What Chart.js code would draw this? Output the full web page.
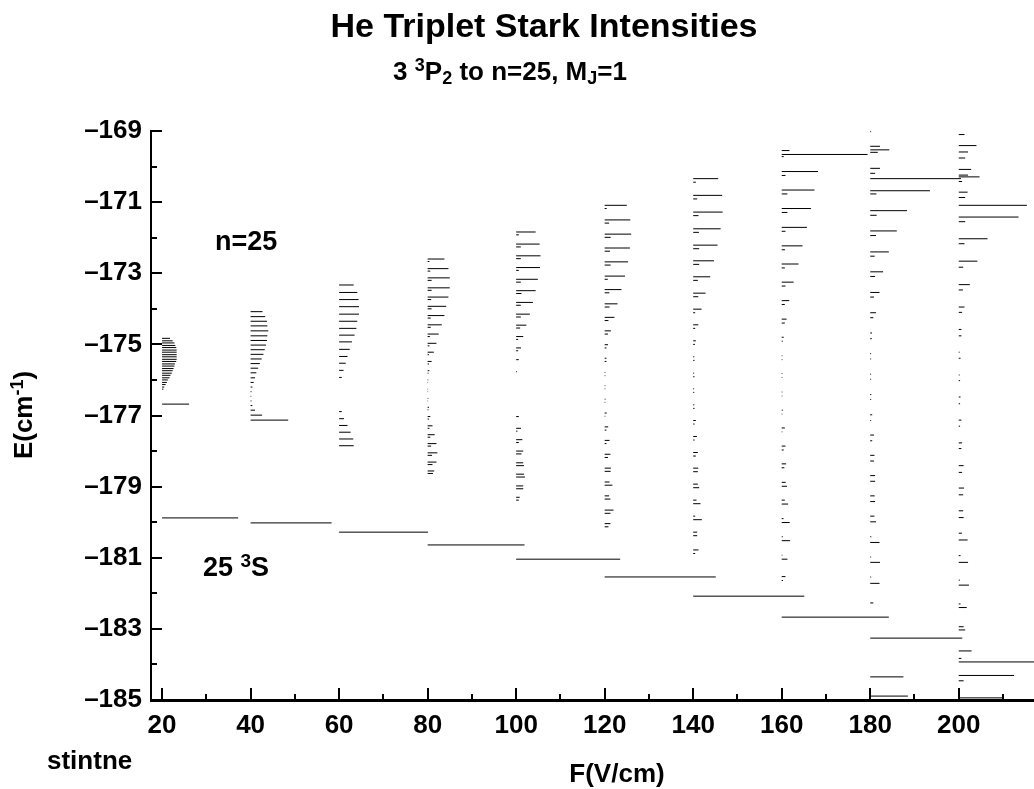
<!DOCTYPE html>
<html><head><meta charset="utf-8">
<script src="https://cdn.jsdelivr.net/npm/chart.js@4/dist/chart.umd.min.js"></script>
<style>html,body{margin:0;padding:0;background:#fff;}#wrap{width:1034px;height:789px;position:relative;}</style>
</head><body><div id="wrap"><canvas id="c" width="1034" height="789"></canvas></div>
<script>
// ---------- data (energies in cm^-1, line lengths = relative intensity in V/cm units) ----------
const fields = [20, 40, 60, 80, 100, 120, 140, 160, 180, 200];

const E20 = [-174.83,-174.90,-174.96,-175.03,-175.09,-175.16,-175.22,-175.29,-175.35,-175.42,-175.48,-175.55,-175.61,-175.68,-175.74,-175.81,-175.87,-175.94,-176.00,-176.07,-176.13,-176.20,-176.26,-176.33,-176.68];
const L20 = [1.8,2.4,2.8,3.0,3.2,3.3,3.3,3.3,3.3,3.3,3.2,2.9,2.8,2.6,2.4,2.2,1.9,1.7,1.3,1.1,0.8,0.5,0.3,0.15,6.1];

const E40 = [-174.08,-174.22,-174.35,-174.48,-174.62,-174.76,-174.89,-175.02,-175.15,-175.28,-175.41,-175.54,-175.67,-175.80,-175.94,-176.07,-176.20,-176.33,-176.46,-176.59,-176.72,-176.85,-176.99,-177.13];
const L40 = [2.7,3.3,3.7,3.8,4.0,3.8,3.7,3.5,3.2,2.9,2.5,2.1,1.7,1.3,1.0,0.7,0.4,0.2,0.15,0.2,0.4,1.0,2.6,8.5];

const E60 = [-173.33,-173.54,-173.74,-173.94,-174.15,-174.35,-174.55,-174.74,-174.93,-175.14,-175.34,-175.53,-175.73,-175.93,-176.12,-176.32,-176.52,-176.70,-176.89,-177.09,-177.28,-177.47,-177.66,-177.85];
const L60 = [3.3,4.1,4.4,4.5,4.5,4.1,3.9,3.5,2.9,2.4,1.9,1.5,1.0,0.6,0.2,0.1,0.1,0.2,0.6,1.1,1.9,2.6,3.2,3.3];

const E80 = [-172.60,-172.87,-173.13,-173.41,-173.67,-173.93,-174.19,-174.45,-174.71,-174.97,-175.22,-175.48,-175.74,-176.00,-176.26,-176.52,-176.77,-177.03,-177.29,-177.54,-177.79,-178.05,-178.31,-178.56];
const L80 = [3.8,4.7,5.0,5.0,4.7,4.2,3.8,3.2,2.5,2.0,1.4,0.9,0.4,0.15,0.1,0.15,0.3,0.6,1.1,1.6,2.0,2.2,2.0,1.5];
const E80b = [-172.67,-172.94,-173.20,-173.48,-173.74,-174.00,-174.26,-174.52,-174.78,-175.04,-175.29,-175.55,-175.81,-176.07,-176.33,-176.59,-176.84,-177.10,-177.36,-177.61,-177.86,-178.12,-178.38,-178.63];
const L80b = [0.4,0.6,0.9,0.9,0.8,0.9,0.7,0.7,0.5,0.4,0.3,0.3,0.2,0.1,0.1,0.1,0.2,0.3,0.4,0.6,0.8,1.0,1.1,1.2];

const E100 = [-171.84,-172.18,-172.51,-172.84,-173.17,-173.49,-173.82,-174.15,-174.46,-174.78,-175.10,-175.43,-175.77,-176.09,-176.42,-176.72,-177.03,-177.36,-177.68,-178.00,-178.33,-178.65,-178.98,-179.30];
const L100 = [4.4,5.3,5.5,5.4,4.9,4.4,3.8,3.1,2.3,1.6,1.1,0.6,0.2,0.1,0.1,0.15,0.6,1.1,1.4,1.6,1.6,1.8,1.6,0.8];
const E100b = [-171.92,-172.26,-172.59,-172.92,-173.25,-173.57,-173.90,-174.23,-174.54,-174.86,-175.18,-175.51,-175.85,-176.17,-176.50,-176.80,-177.11,-177.44,-177.76,-178.08,-178.41,-178.73,-179.06,-179.38];
const L100b = [0.6,1.05,1.05,0.6,1.05,1.2,1.05,1.05,0.9,0.45,0.45,0.15,0.15,0.1,0.1,0.1,0.15,0.3,0.6,1.2,1.75,2.0,1.6,0.6];

const E120 = [-171.09,-171.50,-171.90,-172.29,-172.68,-173.08,-173.46,-173.86,-174.24,-174.62,-175.01,-175.39,-175.79,-176.16,-176.54,-176.93,-177.32,-177.70,-178.09,-178.48,-178.87,-179.26,-179.66,-180.04];
const L120 = [5.0,5.8,6.0,5.7,5.3,4.6,3.8,2.9,2.2,1.4,0.75,0.4,0.15,0.15,0.2,0.45,0.8,1.1,1.3,1.4,1.1,1.0,2.0,1.3];
const E120b = [-171.18,-171.59,-171.99,-172.38,-172.77,-173.17,-173.55,-173.95,-174.33,-174.71,-175.10,-175.48,-175.88,-176.25,-176.63,-177.02,-177.41,-177.79,-178.18,-178.57,-178.96,-179.35,-179.75,-180.13];
const L120b = [0.45,1.0,1.35,1.2,1.35,0.7,1.05,1.1,0.85,0.75,0.4,0.4,0.15,0.15,0.15,0.15,0.4,0.4,0.75,1.35,1.75,1.3,1.3,0.85];

const E140 = [-170.34,-170.81,-171.28,-171.75,-172.21,-172.65,-173.10,-173.56,-174.01,-174.45,-174.90,-175.35,-175.81,-176.25,-176.70,-177.14,-177.59,-178.04,-178.48,-178.93,-179.38,-179.83,-180.28,-180.78];
const L140 = [5.65,6.55,6.65,6.2,5.5,4.7,3.85,2.8,1.9,1.15,0.6,0.25,0.2,0.2,0.25,0.6,0.85,1.05,1.15,1.05,0.75,0.45,0.9,1.2];
const E140b = [-170.44,-170.91,-171.38,-171.85,-172.31,-172.75,-173.20,-173.66,-174.11,-174.55,-175.00,-175.45,-175.91,-176.35,-176.80,-177.24,-177.69,-178.14,-178.58,-179.03,-179.48,-179.93,-180.38,-180.88];
const L140b = [0.6,0.9,1.2,1.3,1.35,1.35,1.05,1.15,0.45,0.45,0.4,0.3,0.3,0.25,0.3,0.3,0.3,0.6,1.05,1.35,1.65,1.95,0.9,0.45];

const E160 = [-169.55,-169.66,-170.14,-170.66,-171.18,-171.71,-172.23,-172.74,-173.25,-173.77,-174.29,-174.80,-175.32,-175.82,-176.34,-176.85,-177.35,-177.86,-178.36,-178.88,-179.38,-179.90,-180.41,-180.93,-181.53];
const L160 = [1.75,19.4,8.2,7.4,6.6,5.7,4.7,3.8,2.7,1.7,1.1,0.45,0.15,0.15,0.15,0.25,0.7,0.85,1.0,0.9,0.7,0.4,0.25,0.15,0.85];
const E160b = [-169.72,-170.25,-170.77,-171.29,-171.82,-172.34,-172.85,-173.36,-173.88,-174.40,-174.91,-175.43,-175.93,-176.45,-176.96,-177.46,-177.97,-178.47,-178.99,-179.49,-180.01,-180.52,-181.04,-181.64];
const L160b = [0.45,0.85,1.3,1.3,0.85,0.75,0.7,0.85,0.7,0.7,0.25,0.15,0.15,0.15,0.15,0.15,0.45,0.6,1.2,1.45,1.8,1.9,1.3,0.3];

const E180 = [-169.02,-169.43,-169.53,-169.60,-170.05,-170.19,-170.34,-170.68,-170.77,-171.24,-171.37,-171.81,-171.94,-172.40,-172.52,-172.96,-173.09,-173.54,-173.67,-174.11,-174.25,-174.68,-174.84,-175.26,-175.41,-175.84,-175.98,-176.41,-176.55,-176.98,-177.14,-177.55,-177.71,-178.12,-178.28,-178.69,-178.85,-179.26,-179.42,-179.83,-179.99,-180.41,-180.57,-180.98,-181.13,-181.54,-181.72,-182.27,-184.35,-184.89];
const L180 = [0.2,2.2,4.3,1.7,2.2,1.1,20.5,13.5,1.4,8.3,1.45,6.0,1.3,4.2,1.0,2.9,1.1,2.1,0.85,1.3,0.7,0.4,0.35,0.2,0.2,0.2,0.2,0.25,0.2,0.45,0.2,0.85,0.45,0.95,0.85,1.1,1.1,1.0,1.1,0.95,1.3,0.25,2.1,0.2,2.2,0.2,2.1,0.7,7.5,8.5];

const E200 = [-169.10,-169.41,-169.59,-169.76,-170.08,-170.24,-170.29,-170.42,-170.72,-170.87,-171.09,-171.42,-171.55,-172.03,-172.17,-172.66,-172.83,-173.32,-173.47,-173.95,-174.10,-174.58,-174.76,-175.22,-175.39,-175.86,-176.02,-176.48,-176.67,-177.13,-177.30,-177.77,-177.93,-178.41,-178.60,-179.04,-179.23,-179.68,-179.87,-180.31,-180.50,-180.94,-181.13,-181.63,-181.77,-182.30,-182.40,-182.94,-183.03,-183.62,-183.83,-184.31,-184.46,-184.94];
const L200 = [1.3,4.0,2.1,1.45,2.8,2.1,4.7,0.75,2.0,1.45,15.4,13.5,1.45,6.5,1.3,4.2,1.0,2.5,0.95,1.3,0.75,0.6,0.6,0.2,0.4,0.2,0.3,0.4,0.3,0.6,0.3,0.75,0.6,1.1,0.75,1.2,1.0,1.0,1.1,0.7,2.0,0.4,2.1,0.25,2.3,0.4,1.8,1.1,1.45,2.9,0.6,12.5,1.1,10.0];

// 25 3S state at each field
const S_E = [-179.88,-180.02,-180.28,-180.64,-181.04,-181.54,-182.08,-182.67,-183.26,-183.93];
const S_L = [17.2,18.3,20.1,21.9,23.5,25.1,25.1,24.2,20.8,20.0];

// axis tick values
const xMajor = [20,40,60,80,100,120,140,160,180,200];
const xMinor = [30,50,70,90,110,130,150,170,190,210];
const yMinor = [-184,-182,-180,-178,-176,-174,-172,-170];

// ---------- build segments ----------
function segs(F, E, L) {
  const d = [];
  for (let i = 0; i < E.length; i++) {
    d.push({x: F, y: E[i]}, {x: F + L[i], y: E[i]}, {x: NaN, y: NaN});
  }
  return d;
}
const groups = [
  [20, E20, L20], [40, E40, L40], [60, E60, L60],
  [80, E80, L80], [80, E80b, L80b],
  [100, E100, L100], [100, E100b, L100b],
  [120, E120, L120], [120, E120b, L120b],
  [140, E140, L140], [140, E140b, L140b],
  [160, E160, L160], [160, E160b, L160b],
  [180, E180, L180], [200, E200, L200]
];
const datasets = groups.map(g => ({data: segs(g[0], g[1], g[2])}));
const sData = [];
fields.forEach((F, i) => { sData.push({x: F, y: S_E[i]}, {x: F + S_L[i], y: S_E[i]}, {x: NaN, y: NaN}); });
datasets.push({data: sData});
datasets.forEach(d => Object.assign(d, {showLine: true, borderColor: '#000', borderWidth: 1, pointRadius: 0, spanGaps: false, tension: 0}));

const FONT = '"Liberation Sans", Arial, Helvetica, sans-serif';

function drawRich(ctx, parts, x, y, size, align) {
  const small = Math.round(size * 0.7);
  const fN = 'bold ' + size + 'px ' + FONT, fS = 'bold ' + small + 'px ' + FONT;
  let w = 0;
  parts.forEach(p => { ctx.font = p[1] ? fS : fN; w += ctx.measureText(p[0]).width; });
  let cx = align === 'center' ? x - w / 2 : x;
  ctx.textAlign = 'left'; ctx.textBaseline = 'alphabetic';
  parts.forEach(p => {
    ctx.font = p[1] ? fS : fN;
    const dy = p[1] === 'sup' ? -size * 0.33 : (p[1] === 'sub' ? size * 0.16 : 0);
    ctx.fillText(p[0], cx, y + dy);
    cx += ctx.measureText(p[0]).width;
  });
}

const decor = {
  id: 'decor',
  afterDraw(chart) {
    const ctx = chart.ctx, xs = chart.scales.x, ys = chart.scales.y;
    const left = chart.chartArea.left, bottom = chart.chartArea.bottom;
    ctx.save();
    ctx.strokeStyle = '#000'; ctx.lineWidth = 2;
    ctx.beginPath();
    ys.ticks.forEach(t => { const p = Math.round(ys.getPixelForValue(t.value)); ctx.moveTo(left, p); ctx.lineTo(left + 11, p); });
    yMinor.forEach(v => { const p = Math.round(ys.getPixelForValue(v)); ctx.moveTo(left, p); ctx.lineTo(left + 6, p); });
    xMajor.forEach(v => { const p = Math.round(xs.getPixelForValue(v)); ctx.moveTo(p, bottom); ctx.lineTo(p, bottom - 12); });
    xMinor.forEach(v => { const p = Math.round(xs.getPixelForValue(v)); ctx.moveTo(p, bottom); ctx.lineTo(p, bottom - 6); });
    ctx.stroke();
    ctx.fillStyle = '#000';
    drawRich(ctx, [['He Triplet Stark Intensities']], 544, 37, 34, 'center');
    drawRich(ctx, [['3 '], ['3', 'sup'], ['P'], ['2', 'sub'], [' to n=25, M'], ['J', 'sub'], ['=1']], 510, 80, 26, 'center');
    drawRich(ctx, [['n=25']], 215, 250, 27, 'left');
    drawRich(ctx, [['25 '], ['3', 'sup'], ['S']], 203, 576, 27, 'left');
    drawRich(ctx, [['stintne']], 47, 769, 26, 'left');
    drawRich(ctx, [['F(V/cm)']], 617, 782, 26, 'center');
    ctx.translate(32, 415); ctx.rotate(-Math.PI / 2);
    drawRich(ctx, [['E(cm'], ['-1', 'sup'], [')']], 0, 0, 26, 'center');
    ctx.restore();
  }
};

new Chart(document.getElementById('c'), {
  type: 'scatter',
  data: {datasets},
  plugins: [decor],
  options: {
    responsive: false, animation: false, devicePixelRatio: 1,
    layout: {padding: {top: 131, right: 0, left: 0, bottom: 0}},
    plugins: {legend: {display: false}, tooltip: {enabled: false}, title: {display: false}},
    scales: {
      x: {
        type: 'linear', min: 17.5, max: 217,
        grid: {display: false, drawTicks: false},
        border: {display: true, color: '#000', width: 3},
        ticks: {stepSize: 20, includeBounds: false, padding: 10, color: '#000', maxRotation: 0, font: {family: FONT, size: 26, weight: 'bold'}},
        afterFit(s) { s.height = 89; }
      },
      y: {
        type: 'linear', min: -185, max: -169,
        grid: {display: false, drawTicks: false},
        border: {display: true, color: '#000', width: 2},
        ticks: {stepSize: 2, includeBounds: false, padding: 9, color: '#000', font: {family: FONT, size: 26, weight: 'bold'},
          callback: v => String(v).replace('-', '\u2013')},
        afterFit(s) { s.width = 151; }
      }
    }
  }
});
</script></body></html>
